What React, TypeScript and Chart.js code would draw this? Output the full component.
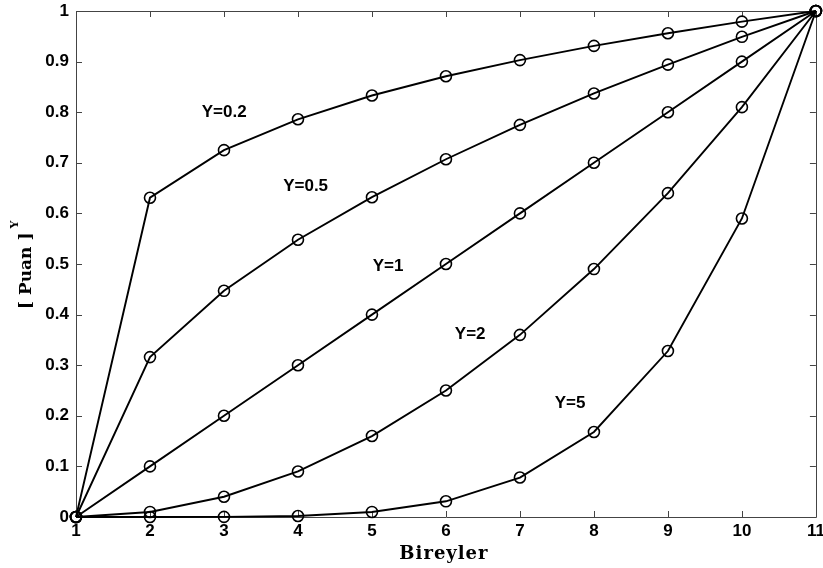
import React, { useEffect, useRef } from "react";
import { Chart, registerables } from "chart.js";

Chart.register(...registerables);

const bireyler = [1, 2, 3, 4, 5, 6, 7, 8, 9, 10, 11];
const xTickLabels = ["1", "2", "3", "4", "5", "6", "7", "8", "9", "10", "11"];
const yTickLabels = ["0", "0.1", "0.2", "0.3", "0.4", "0.5", "0.6", "0.7", "0.8", "0.9", "1"];

const y02 = [0, 0.631, 0.725, 0.786, 0.833, 0.871, 0.903, 0.931, 0.956, 0.979, 1];
const y05 = [0, 0.316, 0.447, 0.548, 0.632, 0.707, 0.775, 0.837, 0.894, 0.949, 1];
const y1 = [0, 0.1, 0.2, 0.3, 0.4, 0.5, 0.6, 0.7, 0.8, 0.9, 1];
const y2 = [0, 0.01, 0.04, 0.09, 0.16, 0.25, 0.36, 0.49, 0.64, 0.81, 1];
const y5 = [0, 0.0, 0.0003, 0.002, 0.01, 0.031, 0.078, 0.168, 0.328, 0.59, 1];

const seriesNames = ["Y=0.2", "Y=0.5", "Y=1", "Y=2", "Y=5"];
const seriesValues = [y02, y05, y1, y2, y5];
// annotation anchor (data coords): left edge x, vertical centre y
const labelX = [2.7, 3.8, 5.01, 6.12, 7.47];
const labelY = [0.8, 0.654, 0.496, 0.362, 0.225];

const TICK_FONT = "'Liberation Sans', Arial, sans-serif";
const TITLE_FONT = "'DejaVu Serif', serif";

const framePlugin = {
  id: "frame",
  beforeDatasetsDraw(chart: any) {
    const { ctx, chartArea } = chart;
    const { left, right, top, bottom } = chartArea;
    const xs = chart.scales.x;
    const ys = chart.scales.y;
    ctx.save();
    ctx.strokeStyle = "#444";
    ctx.lineWidth = 1;
    ctx.beginPath();
    ctx.rect(Math.round(left) + 0.5, Math.round(top) + 0.5, Math.round(right - left), Math.round(bottom - top));
    ctx.stroke();
    const tl = 6;
    ctx.beginPath();
    bireyler.forEach((v) => {
      const px = Math.round(xs.getPixelForValue(v)) + 0.5;
      ctx.moveTo(px, bottom);
      ctx.lineTo(px, bottom - tl);
      ctx.moveTo(px, top);
      ctx.lineTo(px, top + tl);
    });
    yTickLabels.forEach((_, i) => {
      const py = Math.round(ys.getPixelForValue(i / 10)) + 0.5;
      ctx.moveTo(left, py);
      ctx.lineTo(left + tl, py);
      ctx.moveTo(right, py);
      ctx.lineTo(right - tl, py);
    });
    ctx.stroke();
    ctx.restore();
  },
  afterDraw(chart: any) {
    const { ctx, chartArea } = chart;
    const xs = chart.scales.x;
    const ys = chart.scales.y;
    ctx.save();
    ctx.fillStyle = "#000";
    ctx.font = `bold 17px ${TICK_FONT}`;
    ctx.textAlign = "left";
    ctx.textBaseline = "middle";
    seriesNames.forEach((name, i) => {
      ctx.fillText(name, xs.getPixelForValue(labelX[i]), ys.getPixelForValue(labelY[i]));
    });
    // x title
    ctx.font = `bold 18px ${TITLE_FONT}`;
    (ctx as any).letterSpacing = "1px";
    ctx.textAlign = "center";
    ctx.textBaseline = "alphabetic";
    ctx.fillText("Bireyler", (chartArea.left + chartArea.right) / 2 - 2, 559);
    (ctx as any).letterSpacing = "0px";
    // y title
    ctx.translate(31, 309);
    ctx.rotate(-Math.PI / 2);
    ctx.textAlign = "left";
    ctx.font = `bold 17px ${TITLE_FONT}`;
    const main = "[ Puan ]";
    ctx.fillText(main, 0, 0);
    const w = ctx.measureText(main).width;
    ctx.font = `bold 11px ${TITLE_FONT}`;
    ctx.fillText("Y", w + 4, -13);
    ctx.restore();
  },
};

export default function App() {
  const ref = useRef<HTMLCanvasElement>(null);
  useEffect(() => {
    if (!ref.current) return;
    const datasets = seriesValues.map((vals, i) => ({
      label: seriesNames[i],
      data: bireyler.map((x, j) => ({ x, y: vals[j] })),
      borderColor: "#000",
      borderWidth: 1.9,
      pointRadius: 5.5,
      pointBorderWidth: 1.6,
      pointBorderColor: "#000",
      pointBackgroundColor: "rgba(0,0,0,0)",
      tension: 0,
      clip: false as any,
    }));
    const chart = new Chart(ref.current, {
      type: "line",
      data: { datasets },
      plugins: [framePlugin],
      options: {
        animation: false,
        responsive: false,
        layout: { padding: { left: 0, top: 11, right: 7, bottom: 0 } },
        plugins: { legend: { display: false }, tooltip: { enabled: false } },
        scales: {
          x: {
            type: "linear",
            min: 1,
            max: 11,
            grid: { display: false, drawTicks: false },
            border: { display: false },
            ticks: {
              stepSize: 1,
              autoSkip: false,
              maxRotation: 0,
              padding: 4,
              color: "#000",
              font: { family: TICK_FONT, size: 17, weight: "bold" },
              callback: (v: any) => xTickLabels[bireyler.indexOf(Number(v))] ?? "",
            },
            afterFit: (s: any) => {
              s.height = 51;
              s.paddingLeft = 0;
              s.paddingRight = 0;
            },
          },
          y: {
            type: "linear",
            min: 0,
            max: 1,
            grid: { display: false, drawTicks: false },
            border: { display: false },
            ticks: {
              stepSize: 0.1,
              autoSkip: false,
              padding: 7,
              color: "#000",
              font: { family: TICK_FONT, size: 17, weight: "bold" },
              callback: (v: any) => yTickLabels[Math.round(Number(v) * 10)] ?? "",
            },
            afterFit: (s: any) => {
              s.width = 76;
              s.paddingTop = 0;
              s.paddingBottom = 0;
            },
          },
        },
      } as any,
    });
    return () => chart.destroy();
  }, []);
  return (
    <div style={{ position: "absolute", left: 0, top: 0, width: 823, height: 568, background: "#fff" }}>
      <canvas ref={ref} width={823} height={568} />
    </div>
  );
}
